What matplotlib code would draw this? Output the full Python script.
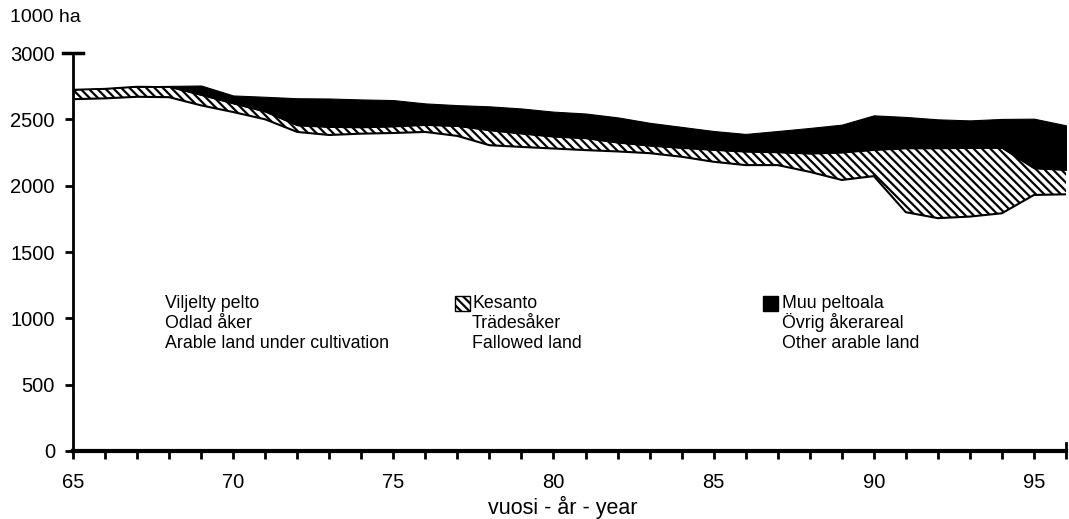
import matplotlib
matplotlib.use("Agg")
import matplotlib.pyplot as plt
from matplotlib.patches import Rectangle
import numpy as np

plt.rcParams['font.family'] = ['Liberation Sans', 'DejaVu Sans']
plt.rcParams['hatch.linewidth'] = 1.6

# data (1000 ha)
years = list(range(65, 97))
cultivated = [2652, 2658, 2670, 2667, 2605, 2555, 2500, 2405, 2382, 2392, 2397, 2405, 2375, 2305, 2292, 2280,
              2268, 2258, 2245, 2218, 2180, 2155, 2155, 2104, 2043, 2072, 1800, 1755, 1767, 1792, 1930, 1935]
fallowed = [73, 74, 78, 78, 79, 65, 58, 50, 61, 48, 50, 53, 75, 113, 101, 90,
            90, 67, 57, 67, 90, 102, 97, 138, 207, 198, 482, 527, 518, 493, 201, 184]
other = [0, 0, 0, 7, 71, 60, 112, 204, 214, 210, 198, 162, 157, 180, 189, 188,
         186, 190, 172, 158, 142, 133, 160, 193, 210, 260, 236, 218, 207, 218, 374, 336]

labels_cult = ["Viljelty pelto", "Odlad åker", "Arable land under cultivation"]
labels_fallow = ["Kesanto", "Trädesåker", "Fallowed land"]
labels_other = ["Muu peltoala", "Övrig åkerareal", "Other arable land"]

W, H = 1069, 519
fig = plt.figure(figsize=(W / 100, H / 100), dpi=100)
ax = fig.add_axes([73 / W, 1 - 451 / H, 993 / W, 398 / H])

c = np.array(cultivated)
f = c + np.array(fallowed)
t = f + np.array(other)

ax.fill_between(years, 0, c, facecolor='white', edgecolor='none')
ax.fill_between(years, c, f, facecolor='white', edgecolor='black', hatch='\\\\\\\\', linewidth=0)
ax.plot(years, c, color='black', lw=1.5)
ax.plot(years, f, color='black', lw=1.0)
ax.fill_between(years, f, t, facecolor='black', edgecolor='black', linewidth=0.8)

ax.set_xlim(65, 96)
ax.set_ylim(0, 3000)
ax.set_yticks(range(0, 3001, 500))
ax.set_xticks(years)
ax.set_xticklabels([str(y) if y % 5 == 0 else '' for y in years])
ax.tick_params(axis='both', direction='out', length=6, width=2, labelsize=14.5, colors='black')
ax.tick_params(axis='y', pad=7)
ax.tick_params(axis='x', pad=10)
for s in ['top', 'right']:
    ax.spines[s].set_visible(False)
ax.spines['left'].set_linewidth(2)
ax.spines['bottom'].set_linewidth(3)

# small cap at the top of the y axis and end mark of the x axis
ax.plot([64.7, 65.3], [3000, 3000], color='black', lw=2.5, clip_on=False)
ax.plot([96, 96], [0, 60], color='black', lw=2, clip_on=False)

fig.text(10 / W, 1 - 18 / H, "1000 ha", fontsize=14, va='center', ha='left')
fig.text(563 / W, 1 - 507 / H, "vuosi - år - year", fontsize=15.5, va='center', ha='center')

# legend written as text blocks
for i, txt in enumerate(labels_cult):
    fig.text(165 / W, 1 - (303 + 20 * i) / H, txt, fontsize=12.8, va='center', ha='left')
for i, txt in enumerate(labels_fallow):
    fig.text(472 / W, 1 - (303 + 20 * i) / H, txt, fontsize=12.8, va='center', ha='left')
for i, txt in enumerate(labels_other):
    fig.text(782 / W, 1 - (303 + 20 * i) / H, txt, fontsize=12.8, va='center', ha='left')

fig.patches.append(Rectangle((455 / W, 1 - 311 / H), 15 / W, 15 / H, transform=fig.transFigure,
                             facecolor='white', edgecolor='black', hatch='\\\\\\\\', lw=1))
fig.patches.append(Rectangle((763 / W, 1 - 311 / H), 15 / W, 15 / H, transform=fig.transFigure,
                             facecolor='black', edgecolor='black', lw=1))

fig.savefig("out.png", dpi=100)
